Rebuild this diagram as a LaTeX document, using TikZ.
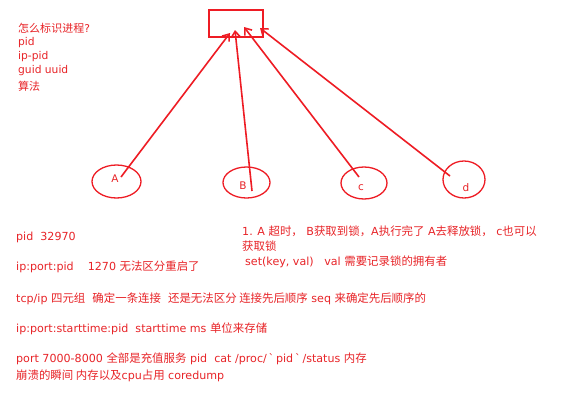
\documentclass[tikz,border=0pt]{standalone}
\usepackage{fontspec}
\setmainfont{DejaVu Sans}[Ligatures=TeXOff]
\newfontfamily\cjk{Noto Sans CJK SC}[Scale=1.03]
\newcommand{\zh}[1]{{\cjk #1}}
\usetikzlibrary{shapes.geometric,arrows.meta}
\definecolor{lred}{RGB}{238,28,36}
\definecolor{tred}{RGB}{232,36,40}
\tikzset{
  lk/.style={draw=lred,line width=1.6pt,-{Straight Barb[length=6pt,width=9pt]}},
  ell/.style={draw=lred,line width=1.3pt,ellipse,inner sep=0pt},
  lab/.style={text=tred,font=\fontsize{10.5}{12}\selectfont,inner sep=0pt},
  txt/.style={text=tred,font=\fontsize{11.1}{14}\selectfont,inner sep=0pt,anchor=west},
  ttxt/.style={text=tred,font=\fontsize{10.7}{14}\selectfont,inner sep=0pt,anchor=west},
}
\begin{document}
\begin{tikzpicture}[x=1pt,y=-1pt]
\useasboundingbox (0,0) rectangle (575,415);
\fill[white] (0,0) rectangle (575,415);
% top box
\node[draw=lred,line width=1.6pt,minimum width=54pt,minimum height=27pt,inner sep=0pt] (box) at (236,23.5) {};
\coordinate (tA) at (230,33);
\coordinate (tB) at (235,30);
\coordinate (tC) at (244,27);
\coordinate (tD) at (260,28);
% ellipses
\node[ell,minimum width=49pt,minimum height=33pt] (eA) at (116.5,181.5) {};
\node[ell,minimum width=47pt,minimum height=31pt] (eB) at (246.5,182.5) {};
\node[ell,minimum width=46pt,minimum height=32pt] (eC) at (364,183) {};
\node[ell,minimum width=42pt,minimum height=37pt] (eD) at (464,179.5) {};
\node[lab] (lA) at (115,179) {A};
\node[lab] (lB) at (243,186) {B};
\node[lab] (lC) at (361,188) {c};
\node[lab] (lD) at (466,188) {d};
\coordinate (sA) at (121,177);
\coordinate (sB) at (252,191);
\coordinate (sC) at (359,177);
\coordinate (sD) at (450,176);
\draw[lk] (sA) -- (tA);
\draw[lk] (sB) -- (tB);
\draw[lk] (sC) -- (tC);
\draw[lk] (sD) -- (tD);
% top-left text
\node[ttxt] (q1) at (18,28) {\zh{怎么标识进程}?};
\node[ttxt] (q2) at (18,43) {pid};
\node[ttxt] (q3) at (18,57) {ip-pid};
\node[ttxt] (q4) at (18,71) {guid uuid};
\node[ttxt] (q5) at (18,86) {\zh{算法}};
% bottom texts
\node[txt] (t1) at (16,237) {pid\ \ 32970};
\node[txt] (t2) at (16,267) {ip:port:pid\ \ \ \ 1270 \zh{无法区分重启了}};
\node[txt] (t3) at (16,299) {tcp/ip \zh{四元组}\ \ \zh{确定一条连接}\ \ \zh{还是无法区分 连接先后顺序} seq \zh{来确定先后顺序的}};
\node[txt] (t4) at (16,329) {ip:port:starttime:pid\ \ starttime ms \zh{单位来存储}};
\node[txt] (t5) at (16,359) {port 7000-8000 \zh{全部是充值服务} pid\ \ cat /proc/\,`\,pid\,`\,/status \zh{内存}};
\node[txt] (t6) at (16,376) {\zh{崩溃的瞬间 内存以及}cpu\zh{占用} coredump};
\node[txt] (r1) at (242,231) {1. A \zh{超时，}\ B\zh{获取到锁，}A\zh{执行完了} A\zh{去释放锁，}\ c\zh{也可以}};
\node[txt] (r2) at (242,246) {\zh{获取锁}};
\node[txt] (r3) at (245,262) {set(key, val)\ \ \ val \zh{需要记录锁的拥有者}};
\end{tikzpicture}
\end{document}
